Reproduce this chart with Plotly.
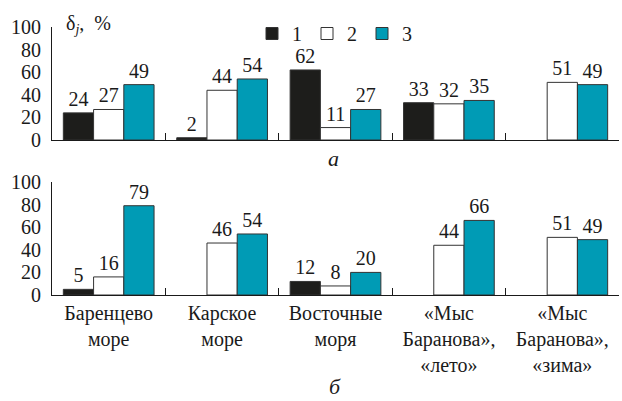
import plotly.graph_objects as go
from plotly.subplots import make_subplots

# Categories (x-axis tick labels)
categories = [
    "Баренцево<br>море",
    "Карское<br>море",
    "Восточные<br>моря",
    "«Мыс<br>Баранова»,<br>«лето»",
    "«Мыс<br>Баранова»,<br>«зима»",
]

# Panel "а"
top_s1 = [24, 2, 62, 33, None]
top_s2 = [27, 44, 11, 32, 51]
top_s3 = [49, 54, 27, 35, 49]

# Panel "б"
bot_s1 = [5, None, 12, None, None]
bot_s2 = [16, 46, 8, 44, 51]
bot_s3 = [79, 54, 20, 66, 49]

series_names = ["1", "2", "3"]
y_ticks = [0, 20, 40, 60, 80, 100]

FONT = "Liberation Serif, Times New Roman, serif"
FS = 20
INK = "#1a1a1a"
colors = ["#1d1d1b", "#ffffff", "#009bb5"]
outline = "#333333"

W, H = 622, 401
L, R = 52, 3
fig = make_subplots(rows=2, cols=1, vertical_spacing=0.1)


def add_panel(values, row, show_legend):
    for name, vals, col in zip(series_names, values, colors):
        fig.add_trace(
            go.Bar(
                x=categories,
                y=vals,
                name=name,
                marker=dict(color=col, line=dict(color=outline, width=1)),
                text=[("" if v is None else str(v)) for v in vals],
                textposition="outside",
                textfont=dict(family=FONT, size=FS, color=INK),
                constraintext="none",
                cliponaxis=False,
                showlegend=show_legend,
                hoverinfo="skip",
            ),
            row=row,
            col=1,
        )


add_panel([top_s1, top_s2, top_s3], 1, True)
add_panel([bot_s1, bot_s2, bot_s3], 2, False)

axis_common = dict(
    showline=True,
    linecolor=INK,
    linewidth=1,
    showgrid=False,
    zeroline=False,
    automargin=False,
    tickfont=dict(family=FONT, size=FS, color=INK),
)

fig.update_xaxes(
    **axis_common,
    type="category",
    tickson="boundaries",
    ticks="inside",
    ticklen=7,
    tickcolor=INK,
    tickwidth=1,
)
fig.update_xaxes(showticklabels=False, row=1, col=1)
fig.update_yaxes(
    **axis_common,
    range=[0, 100],
    tickvals=y_ticks,
    ticks="",
    ticklabelstandoff=6,
)

# plot areas in paper coordinates
fig.update_layout(
    xaxis=dict(domain=[0, 1]),
    xaxis2=dict(domain=[0, 1]),
    yaxis=dict(domain=[(H - 140) / H, (H - 27) / H]),
    yaxis2=dict(domain=[(H - 295) / H, (H - 182) / H]),
)


def px_x(x):
    return (x - L) / (W - L - R)


fig.add_annotation(
    xref="paper", yref="paper", x=px_x(64), y=(H - 24) / H,
    text="δ<sub><i>j</i></sub>,  %", showarrow=False,
    xanchor="left", yanchor="middle",
    font=dict(family=FONT, size=FS, color=INK),
)
fig.add_annotation(
    xref="paper", yref="paper", x=px_x(333), y=(H - 158) / H,
    text="<i>а</i>", showarrow=False, xanchor="center", yanchor="middle",
    font=dict(family=FONT, size=FS + 2, color=INK),
)
fig.add_annotation(
    xref="paper", yref="paper", x=px_x(335), y=(H - 386) / H,
    text="<i>б</i>", showarrow=False, xanchor="center", yanchor="middle",
    font=dict(family=FONT, size=FS + 2, color=INK),
)

fig.update_layout(
    width=W,
    height=H,
    margin=dict(l=L, r=R, t=0, b=0),
    paper_bgcolor="white",
    plot_bgcolor="white",
    barmode="group",
    bargap=0.2,
    bargroupgap=0,
    font=dict(family=FONT, size=FS, color=INK),
    legend=dict(
        orientation="h",
        x=px_x(252), y=(H - 14) / H,
        xref="paper", yref="paper",
        xanchor="left", yanchor="top",
        font=dict(family=FONT, size=FS),
        bgcolor="rgba(0,0,0,0)",
        itemwidth=30,
        tracegroupgap=0,
    ),
)

fig.write_html("out.html")
